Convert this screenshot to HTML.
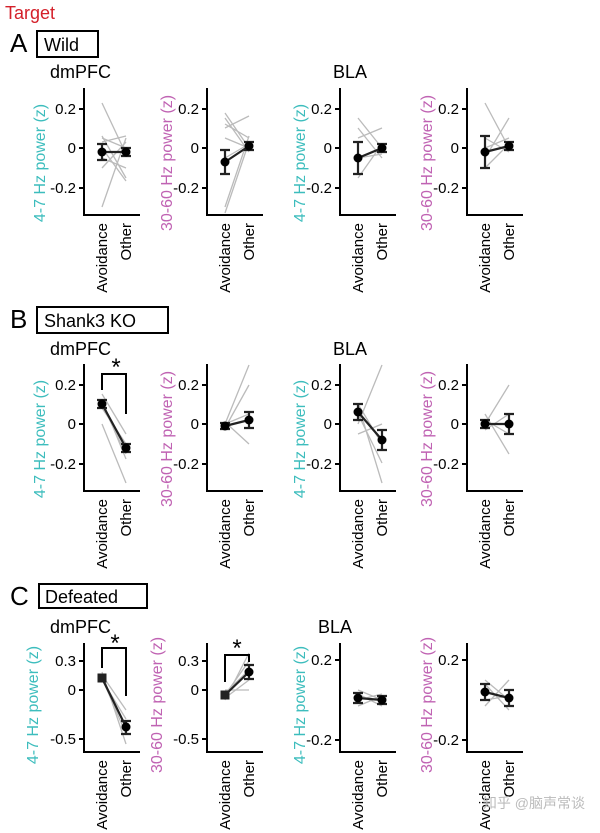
<!DOCTYPE html>
<html><head><meta charset="utf-8"><style>
html,body{margin:0;padding:0;background:#fff;}
svg{display:block;font-family:"Liberation Sans",Arial,sans-serif;}
.ax{stroke:#000;stroke-width:2;fill:none}
.g{stroke:#bbb;stroke-width:1.3}
.m{stroke:#222;stroke-width:2.2;fill:none}
.t{font-size:15px;text-anchor:end}
.xl{font-size:15px;text-anchor:end}
.c1{fill:#3dbdbd;font-size:16px;text-anchor:middle}
.c2{fill:#c063b3;font-size:16px;text-anchor:middle}
</style></head><body>
<svg width="600" height="833" viewBox="0 0 600 833" xmlns="http://www.w3.org/2000/svg">
<text x="5" y="19" font-size="18" fill="#d4202a">Target</text>
<text x="10" y="52" font-size="26">A</text><rect x="37" y="31" width="61" height="26" fill="none" stroke="#000" stroke-width="2"/><text x="44" y="51" font-size="18">Wild</text>
<text x="50" y="78" font-size="18">dmPFC</text><text x="333" y="78" font-size="18">BLA</text>
<text x="10" y="328" font-size="26">B</text><rect x="37" y="307" width="131" height="26" fill="none" stroke="#000" stroke-width="2"/><text x="44" y="327" font-size="18">Shank3 KO</text>
<text x="50" y="355" font-size="18">dmPFC</text><text x="333" y="355" font-size="18">BLA</text>
<text x="10" y="605" font-size="26">C</text><rect x="39" y="584" width="108" height="24" fill="none" stroke="#000" stroke-width="2"/><text x="45" y="603" font-size="18">Defeated</text>
<text x="50" y="633" font-size="18">dmPFC</text><text x="318" y="633" font-size="18">BLA</text>

<text class="c1" transform="translate(45,163) rotate(-90)">4-7 Hz power (z)</text>
<text class="c2" transform="translate(172,163) rotate(-90)">30-60 Hz power (z)</text>
<text class="c1" transform="translate(305,163) rotate(-90)">4-7 Hz power (z)</text>
<text class="c2" transform="translate(432,163) rotate(-90)">30-60 Hz power (z)</text>
<text class="c1" transform="translate(45,439) rotate(-90)">4-7 Hz power (z)</text>
<text class="c2" transform="translate(172,439) rotate(-90)">30-60 Hz power (z)</text>
<text class="c1" transform="translate(305,439) rotate(-90)">4-7 Hz power (z)</text>
<text class="c2" transform="translate(432,439) rotate(-90)">30-60 Hz power (z)</text>
<text class="c1" transform="translate(38,705) rotate(-90)">4-7 Hz power (z)</text>
<text class="c2" transform="translate(162,705) rotate(-90)">30-60 Hz power (z)</text>
<text class="c1" transform="translate(305,705) rotate(-90)">4-7 Hz power (z)</text>
<text class="c2" transform="translate(432,705) rotate(-90)">30-60 Hz power (z)</text>

<!-- ROW A -->
<g transform="translate(84,0)">
<path class="ax" d="M0 88V215H56"/><path class="ax" d="M-5 109H0M-5 148H0M-5 188H0"/>
<text class="t" x="-8" y="114">0.2</text><text class="t" x="-8" y="153">0</text><text class="t" x="-8" y="193">-0.2</text>
<g class="g"><line x1="18" y1="103" x2="42" y2="154"/><line x1="18" y1="136" x2="42" y2="178"/><line x1="18" y1="207" x2="42" y2="138"/><line x1="18" y1="138" x2="42" y2="148"/><line x1="18" y1="168" x2="42" y2="142"/><line x1="18" y1="148" x2="42" y2="181"/><line x1="18" y1="142" x2="42" y2="136"/><line x1="18" y1="158" x2="42" y2="168"/></g>
<path class="m" d="M18 152H42M18 144V160M13 144H23M13 160H23M42 148V156M37 148H47M37 156H47"/><circle cx="18" cy="152" r="4.5"/><circle cx="42" cy="152" r="4.5"/>
<text class="xl" transform="translate(23,223) rotate(-90)">Avoidance</text><text class="xl" transform="translate(47,223) rotate(-90)">Other</text>
</g>
<g transform="translate(207,0)">
<path class="ax" d="M0 88V215H56"/><path class="ax" d="M-5 109H0M-5 148H0M-5 188H0"/>
<text class="t" x="-8" y="114">0.2</text><text class="t" x="-8" y="153">0</text><text class="t" x="-8" y="193">-0.2</text>
<g class="g"><line x1="18" y1="113" x2="42" y2="148"/><line x1="18" y1="118" x2="42" y2="152"/><line x1="18" y1="128" x2="42" y2="116"/><line x1="18" y1="213" x2="42" y2="142"/><line x1="18" y1="207" x2="42" y2="136"/><line x1="18" y1="138" x2="42" y2="148"/><line x1="18" y1="124" x2="42" y2="138"/><line x1="18" y1="158" x2="42" y2="144"/></g>
<path class="m" d="M18 162L42 146M18 150V174M13 150H23M13 174H23M42 142V150M37 142H47M37 150H47"/><circle cx="18" cy="162" r="4.5"/><circle cx="42" cy="146" r="4.5"/>
<text class="xl" transform="translate(23,223) rotate(-90)">Avoidance</text><text class="xl" transform="translate(47,223) rotate(-90)">Other</text>
</g>
<g transform="translate(340,0)">
<path class="ax" d="M0 88V215H56"/><path class="ax" d="M-5 109H0M-5 148H0M-5 188H0"/>
<text class="t" x="-8" y="114">0.2</text><text class="t" x="-8" y="153">0</text><text class="t" x="-8" y="193">-0.2</text>
<g class="g"><line x1="18" y1="118" x2="42" y2="148"/><line x1="18" y1="128" x2="42" y2="158"/><line x1="18" y1="178" x2="42" y2="144"/><line x1="18" y1="138" x2="42" y2="128"/><line x1="18" y1="158" x2="42" y2="154"/></g>
<path class="m" d="M18 158L42 148M18 142V174M13 142H23M13 174H23M42 144V152M37 144H47M37 152H47"/><circle cx="18" cy="158" r="4.5"/><circle cx="42" cy="148" r="4.5"/>
<text class="xl" transform="translate(23,223) rotate(-90)">Avoidance</text><text class="xl" transform="translate(47,223) rotate(-90)">Other</text>
</g>
<g transform="translate(467,0)">
<path class="ax" d="M0 88V215H56"/><path class="ax" d="M-5 109H0M-5 148H0M-5 188H0"/>
<text class="t" x="-8" y="114">0.2</text><text class="t" x="-8" y="153">0</text><text class="t" x="-8" y="193">-0.2</text>
<g class="g"><line x1="18" y1="103" x2="42" y2="148"/><line x1="18" y1="168" x2="42" y2="144"/><line x1="18" y1="148" x2="42" y2="138"/><line x1="18" y1="158" x2="42" y2="118"/><line x1="18" y1="138" x2="42" y2="152"/></g>
<path class="m" d="M18 152L42 146M18 136V168M13 136H23M13 168H23M42 142V150M37 142H47M37 150H47"/><circle cx="18" cy="152" r="4.5"/><circle cx="42" cy="146" r="4.5"/>
<text class="xl" transform="translate(23,223) rotate(-90)">Avoidance</text><text class="xl" transform="translate(47,223) rotate(-90)">Other</text>
</g>

<!-- ROW B -->
<g transform="translate(84,0)">
<path class="ax" d="M0 364V491H56"/><path class="ax" d="M-5 385H0M-5 424H0M-5 464H0"/>
<text class="t" x="-8" y="390">0.2</text><text class="t" x="-8" y="429">0</text><text class="t" x="-8" y="469">-0.2</text>
<g class="g"><line x1="18" y1="400" x2="42" y2="459"/><line x1="18" y1="394" x2="42" y2="434"/><line x1="18" y1="424" x2="42" y2="483"/><line x1="18" y1="408" x2="42" y2="444"/><line x1="18" y1="404" x2="42" y2="454"/></g>
<path class="m" d="M18 404L42 448M18 400V408M13 400H23M13 408H23M42 444V452M37 444H47M37 452H47"/><circle cx="18" cy="404" r="4.5"/><circle cx="42" cy="448" r="4.5"/>
<path class="ax" d="M18 390V374H42V414"/><text x="32" y="375" font-size="24" text-anchor="middle">*</text>
<text class="xl" transform="translate(23,499) rotate(-90)">Avoidance</text><text class="xl" transform="translate(47,499) rotate(-90)">Other</text>
</g>
<g transform="translate(207,0)">
<path class="ax" d="M0 364V491H56"/><path class="ax" d="M-5 385H0M-5 424H0M-5 464H0"/>
<text class="t" x="-8" y="390">0.2</text><text class="t" x="-8" y="429">0</text><text class="t" x="-8" y="469">-0.2</text>
<g class="g"><line x1="18" y1="424" x2="42" y2="365"/><line x1="18" y1="428" x2="42" y2="385"/><line x1="18" y1="422" x2="42" y2="444"/><line x1="18" y1="424" x2="42" y2="414"/></g>
<path class="m" d="M18 426L42 420M18 423V429M13 423H23M13 429H23M42 412V428M37 412H47M37 428H47"/><circle cx="18" cy="426" r="4.5"/><circle cx="42" cy="420" r="4.5"/>
<text class="xl" transform="translate(23,499) rotate(-90)">Avoidance</text><text class="xl" transform="translate(47,499) rotate(-90)">Other</text>
</g>
<g transform="translate(340,0)">
<path class="ax" d="M0 364V491H56"/><path class="ax" d="M-5 385H0M-5 424H0M-5 464H0"/>
<text class="t" x="-8" y="390">0.2</text><text class="t" x="-8" y="429">0</text><text class="t" x="-8" y="469">-0.2</text>
<g class="g"><line x1="18" y1="404" x2="42" y2="483"/><line x1="18" y1="424" x2="42" y2="365"/><line x1="18" y1="414" x2="42" y2="463"/><line x1="18" y1="404" x2="42" y2="444"/><line x1="18" y1="434" x2="42" y2="424"/></g>
<path class="m" d="M18 412L42 440M18 404V420M13 404H23M13 420H23M42 430V450M37 430H47M37 450H47"/><circle cx="18" cy="412" r="4.5"/><circle cx="42" cy="440" r="4.5"/>
<text class="xl" transform="translate(23,499) rotate(-90)">Avoidance</text><text class="xl" transform="translate(47,499) rotate(-90)">Other</text>
</g>
<g transform="translate(467,0)">
<path class="ax" d="M0 364V491H56"/><path class="ax" d="M-5 385H0M-5 424H0M-5 464H0"/>
<text class="t" x="-8" y="390">0.2</text><text class="t" x="-8" y="429">0</text><text class="t" x="-8" y="469">-0.2</text>
<g class="g"><line x1="18" y1="424" x2="42" y2="385"/><line x1="18" y1="414" x2="42" y2="454"/><line x1="18" y1="430" x2="42" y2="414"/><line x1="18" y1="420" x2="42" y2="434"/></g>
<path class="m" d="M18 424H42M18 420V428M13 420H23M13 428H23M42 414V434M37 414H47M37 434H47"/><circle cx="18" cy="424" r="4.5"/><circle cx="42" cy="424" r="4.5"/>
<text class="xl" transform="translate(23,499) rotate(-90)">Avoidance</text><text class="xl" transform="translate(47,499) rotate(-90)">Other</text>
</g>

<!-- ROW C -->
<g transform="translate(84,0)">
<path class="ax" d="M0 643V752H56"/><path class="ax" d="M-5 661H0M-5 690H0M-5 739H0"/>
<text class="t" x="-8" y="666">0.3</text><text class="t" x="-8" y="695">0</text><text class="t" x="-8" y="744">-0.5</text>
<g class="g"><line x1="18" y1="672" x2="42" y2="744"/><line x1="18" y1="675" x2="42" y2="710"/><line x1="18" y1="680" x2="42" y2="719"/><line x1="18" y1="678" x2="42" y2="734"/></g>
<path class="m" d="M18 678L42 727M42 721V734M37 721H47M37 734H47"/><rect x="13.5" y="673.5" width="9" height="9" fill="#222"/><circle cx="42" cy="727" r="4.5"/>
<path class="ax" d="M18 668V648H42V696"/><text x="31" y="651" font-size="24" text-anchor="middle">*</text>
<text class="xl" transform="translate(23,760) rotate(-90)">Avoidance</text><text class="xl" transform="translate(47,760) rotate(-90)">Other</text>
</g>
<g transform="translate(207,0)">
<path class="ax" d="M0 643V752H56"/><path class="ax" d="M-5 661H0M-5 690H0M-5 739H0"/>
<text class="t" x="-8" y="666">0.3</text><text class="t" x="-8" y="695">0</text><text class="t" x="-8" y="744">-0.5</text>
<g class="g"><line x1="18" y1="700" x2="42" y2="653"/><line x1="18" y1="695" x2="42" y2="661"/><line x1="18" y1="690" x2="42" y2="690"/><line x1="18" y1="698" x2="42" y2="680"/><line x1="18" y1="693" x2="42" y2="670"/></g>
<path class="m" d="M18 695L42 672M42 665V679M37 665H47M37 679H47"/><rect x="13.5" y="690.5" width="9" height="9" fill="#222"/><circle cx="42" cy="672" r="4.5"/>
<path class="ax" d="M18 682V655H42V662"/><text x="30" y="656" font-size="24" text-anchor="middle">*</text>
<text class="xl" transform="translate(23,760) rotate(-90)">Avoidance</text><text class="xl" transform="translate(47,760) rotate(-90)">Other</text>
</g>
<g transform="translate(340,0)">
<path class="ax" d="M0 643V752H56"/><path class="ax" d="M-5 660H0M-5 740H0"/>
<text class="t" x="-8" y="665">0.2</text><text class="t" x="-8" y="745">-0.2</text>
<g class="g"><line x1="18" y1="690" x2="42" y2="700"/><line x1="18" y1="706" x2="42" y2="696"/><line x1="18" y1="694" x2="42" y2="706"/><line x1="18" y1="700" x2="42" y2="694"/></g>
<path class="m" d="M18 698L42 700M18 693V703M13 693H23M13 703H23M42 696V704M37 696H47M37 704H47"/><circle cx="18" cy="698" r="4.5"/><circle cx="42" cy="700" r="4.5"/>
<text class="xl" transform="translate(23,760) rotate(-90)">Avoidance</text><text class="xl" transform="translate(47,760) rotate(-90)">Other</text>
</g>
<g transform="translate(467,0)">
<path class="ax" d="M0 643V752H56"/><path class="ax" d="M-5 660H0M-5 740H0"/>
<text class="t" x="-8" y="665">0.2</text><text class="t" x="-8" y="745">-0.2</text>
<g class="g"><line x1="18" y1="680" x2="42" y2="700"/><line x1="18" y1="684" x2="42" y2="710"/><line x1="18" y1="706" x2="42" y2="680"/><line x1="18" y1="700" x2="42" y2="696"/></g>
<path class="m" d="M18 692L42 698M18 684V700M13 684H23M13 700H23M42 690V706M37 690H47M37 706H47"/><circle cx="18" cy="692" r="4.5"/><circle cx="42" cy="698" r="4.5"/>
<text class="xl" transform="translate(23,760) rotate(-90)">Avoidance</text><text class="xl" transform="translate(47,760) rotate(-90)">Other</text>
</g>
<text x="585" y="808" font-size="14" fill="#bbb" text-anchor="end" font-family="'Liberation Sans','Noto Sans CJK SC',sans-serif">知乎 @脑声常谈</text>
</svg>
</body></html>
